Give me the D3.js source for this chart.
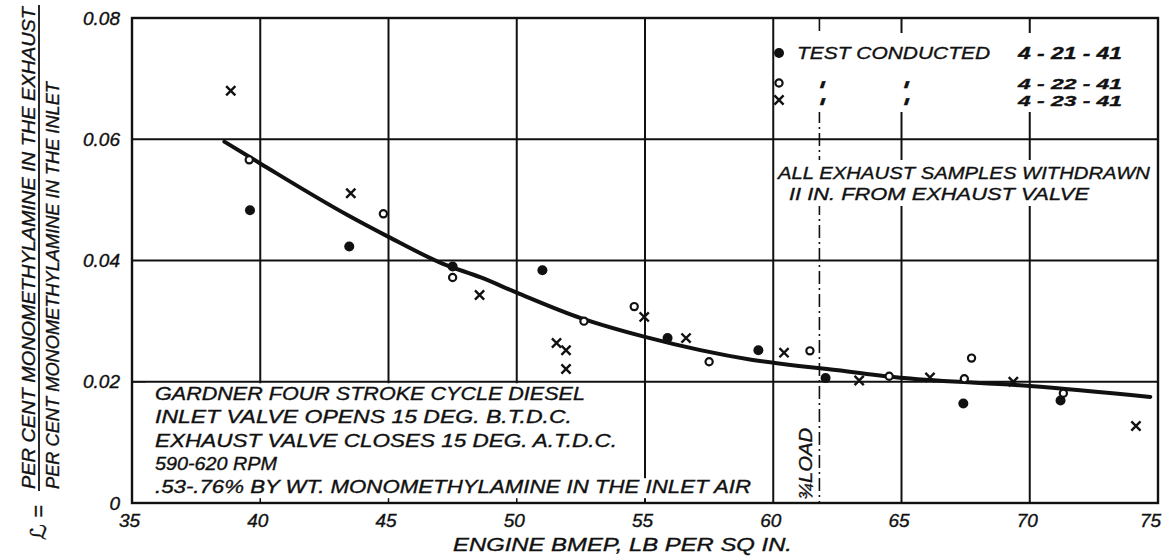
<!DOCTYPE html>
<html>
<head>
<meta charset="utf-8">
<script src="https://cdn.jsdelivr.net/npm/d3@7/dist/d3.min.js"></script>
<style>
    body { margin: 0; background: #fff; }
    svg { display: block; }
    text { font-family: "Liberation Sans", "DejaVu Sans", sans-serif; font-style: italic; fill: #111; stroke: #111; stroke-width: 0.35px; }
</style>
</head>
<body>
<svg width="1164" height="558"></svg>
<script>
// DATA ==============================================================
const xTicks = [35, 40, 45, 50, 55, 60, 65, 70, 75];
const xGrid = [40, 45, 50, 55, 60, 65, 70];
const yTicks = [0, 0.02, 0.04, 0.06, 0.08];
const yTickLabels = ['0', '0.02', '0.04', '0.06', '0.08'];
const yGrid = [0.02, 0.04, 0.06];

// test conducted 4-21-41 (filled dots)
const run1X = [39.6, 43.47, 47.5, 51.0, 55.88, 59.42, 62.04, 67.41, 71.2];
const run1Y = [0.0483, 0.0423, 0.0390, 0.0384, 0.0272, 0.0252, 0.0206, 0.0164, 0.0169];
// 4-22-41 (open circles)
const run2X = [39.57, 44.8, 47.5, 52.62, 54.58, 57.5, 61.43, 64.52, 67.45, 67.73, 71.31];
const run2Y = [0.0566, 0.0477, 0.0372, 0.0300, 0.0324, 0.0233, 0.0251, 0.0209, 0.0205, 0.0239, 0.0181];
// 4-23-41 (crosses)
const run3X = [38.85, 43.53, 48.55, 51.55, 51.92, 51.92, 54.97, 56.6, 60.42, 63.35, 66.11, 69.36, 74.14];
const run3Y = [0.0680, 0.0511, 0.0343, 0.0264, 0.0252, 0.0221, 0.0307, 0.0272, 0.0248, 0.0202, 0.0207, 0.0200, 0.0127];

// faired curve
const curveX = [38.6, 40.0, 43.4, 45.0, 47.1, 48.6, 50.0, 52.5, 55.0, 59.2, 61.0, 62.1, 65.1, 70.0, 74.7];
const curveY = [0.0596, 0.0560, 0.0475, 0.0439, 0.0395, 0.0372, 0.0347, 0.0305, 0.0274, 0.0236, 0.0226, 0.0221, 0.0206, 0.0193, 0.0175];

const loadLine = 61.8; // 3/4 load

const noteLines = [
    'GARDNER  FOUR STROKE CYCLE DIESEL',
    'INLET VALVE OPENS 15 DEG. B.T.D.C.',
    'EXHAUST VALVE CLOSES 15 DEG. A.T.D.C.',
    '590-620 RPM',
    '.53-.76% BY WT. MONOMETHYLAMINE IN THE INLET AIR'
];
const noteWidths = [430, 417, 462, 122, 596];

const sampleLines = ['ALL EXHAUST SAMPLES WITHDRAWN', 'II IN. FROM EXHAUST VALVE'];
const sampleWidths = [372, 300];

const legendDates = ['4 - 21 - 41', '4 - 22 - 41', '4 - 23 - 41'];

// CHART =============================================================
const svg = d3.select('svg');
const LEFT = 132, RIGHT = 1158, TOP = 18, BOTTOM = 503;

const x = d3.scaleLinear().domain([35, 75]).range([LEFT, RIGHT]);
const y = d3.scaleLinear().domain([0, 0.08]).range([BOTTOM, TOP]);

const zip = (xs, ys) => xs.map((v, i) => [v, ys[i]]);

// grid
svg.append('g').selectAll('line.vg')
    .data(xGrid).enter().append('line')
    .attr('x1', d => x(d)).attr('x2', d => x(d))
    .attr('y1', TOP).attr('y2', BOTTOM)
    .attr('stroke', '#111').attr('stroke-width', 2);

svg.append('g').selectAll('line.hg')
    .data(yGrid).enter().append('line')
    .attr('x1', LEFT).attr('x2', RIGHT)
    .attr('y1', d => y(d)).attr('y2', d => y(d))
    .attr('stroke', '#111').attr('stroke-width', 2);

// 3/4 load dash-dot line
svg.append('line')
    .attr('x1', x(loadLine)).attr('x2', x(loadLine))
    .attr('y1', TOP).attr('y2', BOTTOM)
    .attr('stroke', '#111').attr('stroke-width', 1.6)
    .attr('stroke-dasharray', '13 4 2 4');

// white panels behind lettering
const white = svg.append('g');
white.append('rect').attr('x', LEFT + 1).attr('y', y(0.02) + 1.5)
    .attr('width', 458).attr('height', BOTTOM - y(0.02) - 2.5).attr('fill', '#fff');
white.append('rect').attr('x', 777).attr('y', 33).attr('width', 378).attr('height', 79).attr('fill', '#fff');
white.append('rect').attr('x', 777).attr('y', 160).attr('width', 378).attr('height', 46).attr('fill', '#fff');

// small ticks inside the white panel
svg.append('g').selectAll('line')
    .data([40, 45, 50, 55]).enter().append('line')
    .attr('x1', d => x(d)).attr('x2', d => x(d))
    .attr('y1', BOTTOM).attr('y2', BOTTOM - 6)
    .attr('stroke', '#111').attr('stroke-width', 1.5);
svg.append('line')
    .attr('x1', LEFT).attr('x2', LEFT + 14)
    .attr('y1', y(0.02)).attr('y2', y(0.02))
    .attr('stroke', '#111').attr('stroke-width', 1.5);

// notes, bottom left
const notes = svg.append('g');
noteLines.forEach((t, i) => {
    const ty = 400 + i * 23.3;
    notes.append('rect')
        .attr('x', 152).attr('y', ty - 15)
        .attr('width', noteWidths[i] + 8).attr('height', 20).attr('fill', '#fff');
    notes.append('text')
        .attr('x', 155).attr('y', ty)
        .attr('font-size', 17.5)
        .attr('textLength', noteWidths[i])
        .attr('lengthAdjust', 'spacingAndGlyphs')
        .text(t);
});

// exhaust sample note
sampleLines.forEach((t, i) => {
    svg.append('text')
        .attr('x', i === 0 ? 778 : 789).attr('y', 179 + i * 21)
        .attr('font-size', 17)
        .attr('textLength', sampleWidths[i])
        .attr('lengthAdjust', 'spacingAndGlyphs')
        .text(t);
});

// 3/4 load label
svg.append('text')
    .attr('transform', `translate(${x(loadLine) - 7},500) rotate(-90)`)
    .attr('font-size', 19)
    .attr('textLength', 72).attr('lengthAdjust', 'spacingAndGlyphs')
    .text('¾LOAD');

// faired curve
svg.append('path')
    .datum(zip(curveX, curveY))
    .attr('fill', 'none')
    .attr('stroke', '#111')
    .attr('stroke-width', 4)
    .attr('stroke-linecap', 'round')
    .attr('d', d3.line().x(d => x(d[0])).y(d => y(d[1])).curve(d3.curveMonotoneX));

// points
function dots(g, pts, cx, cy) {
    g.selectAll('circle.f').data(pts).enter().append('circle')
        .attr('cx', d => cx(d)).attr('cy', d => cy(d))
        .attr('r', 5).attr('fill', '#111');
}
function rings(g, pts, cx, cy) {
    g.selectAll('circle.o').data(pts).enter().append('circle')
        .attr('cx', d => cx(d)).attr('cy', d => cy(d))
        .attr('r', 3.6).attr('fill', '#fff')
        .attr('stroke', '#111').attr('stroke-width', 2.2);
}
function crosses(g, pts, cx, cy) {
    const s = 4.6;
    g.selectAll('path.x').data(pts).enter().append('path')
        .attr('d', d => {
            const px = cx(d), py = cy(d);
            return `M${px - s},${py - s}L${px + s},${py + s}M${px - s},${py + s}L${px + s},${py - s}`;
        })
        .attr('stroke', '#111').attr('stroke-width', 2.4).attr('fill', 'none');
}
const pg = svg.append('g');
dots(pg, zip(run1X, run1Y), d => x(d[0]), d => y(d[1]));
rings(pg, zip(run2X, run2Y), d => x(d[0]), d => y(d[1]));
crosses(pg, zip(run3X, run3Y), d => x(d[0]), d => y(d[1]));

// legend
const lg = svg.append('g');
const rowsY = [53, 83, 100];
dots(lg, [[779, rowsY[0]]], d => d[0], d => d[1]);
rings(lg, [[779, rowsY[1]]], d => d[0], d => d[1]);
crosses(lg, [[779, rowsY[2]]], d => d[0], d => d[1]);
lg.append('text').attr('x', 797).attr('y', 59).attr('font-size', 17)
    .attr('textLength', 193).attr('lengthAdjust', 'spacingAndGlyphs')
    .text('TEST   CONDUCTED');
legendDates.forEach((t, i) => {
    lg.append('text').attr('x', 1018).attr('y', rowsY[i] + (i === 0 ? 6 : 5.5))
        .attr('font-size', i === 0 ? 17 : 15)
        .attr('font-weight', 'bold')
        .attr('textLength', 104).attr('lengthAdjust', 'spacingAndGlyphs')
        .text(t);
});
// ditto marks
[1, 2].forEach(i => {
    [822, 906].forEach(dx => {
        lg.append('text')
            .attr('transform', `translate(${dx},${rowsY[i] + 4}) skewX(-18)`)
            .attr('font-size', 9).attr('font-style', 'normal')
            .attr('text-anchor', 'middle')
            .text('▮');
    });
});

// frame
svg.append('rect')
    .attr('x', LEFT).attr('y', TOP)
    .attr('width', RIGHT - LEFT).attr('height', BOTTOM - TOP)
    .attr('fill', 'none').attr('stroke', '#111').attr('stroke-width', 2.4);

// axes labels
const xAxis = svg.append('g')
    .attr('transform', `translate(0,${BOTTOM})`)
    .call(d3.axisBottom(x).tickValues(xTicks).tickSize(0).tickPadding(11).tickFormat(d3.format('d')));
xAxis.select('.domain').remove();
xAxis.selectAll('text').attr('font-size', 19).attr('fill', '#111')
    .attr('font-family', null).attr('font-style', 'italic')
    .attr('dx', (d, i) => i === xTicks.length - 1 ? -8 : -3);

const yAxis = svg.append('g')
    .attr('transform', `translate(${LEFT},0)`)
    .call(d3.axisLeft(y).tickValues(yTicks).tickSize(0).tickPadding(12)
        .tickFormat((d, i) => yTickLabels[i]));
yAxis.select('.domain').remove();
yAxis.selectAll('text').attr('font-size', 19).attr('fill', '#111')
    .attr('font-family', null).attr('font-style', 'italic');

// x title
svg.append('text')
    .attr('x', 453).attr('y', 551)
    .attr('font-size', 18)
    .attr('textLength', 339).attr('lengthAdjust', 'spacingAndGlyphs')
    .text('ENGINE BMEP, LB PER SQ IN.');

// y title (fraction)
const yt = svg.append('g');
yt.append('text')
    .attr('transform', 'translate(35,489) rotate(-90)')
    .attr('font-size', 19)
    .attr('textLength', 482).attr('lengthAdjust', 'spacingAndGlyphs')
    .text('PER CENT MONOMETHYLAMINE IN THE EXHAUST');
yt.append('line')
    .attr('x1', 39).attr('x2', 39).attr('y1', 5).attr('y2', 491)
    .attr('stroke', '#111').attr('stroke-width', 1.8);
yt.append('text')
    .attr('transform', 'translate(59,489) rotate(-90)')
    .attr('font-size', 19)
    .attr('textLength', 407).attr('lengthAdjust', 'spacingAndGlyphs')
    .text('PER CENT MONOMETHYLAMINE IN THE INLET');
yt.append('text')
    .attr('transform', 'translate(46,540) rotate(-90)')
    .attr('font-size', 22)
    .text('ℒ =');
</script>
</body>
</html>
